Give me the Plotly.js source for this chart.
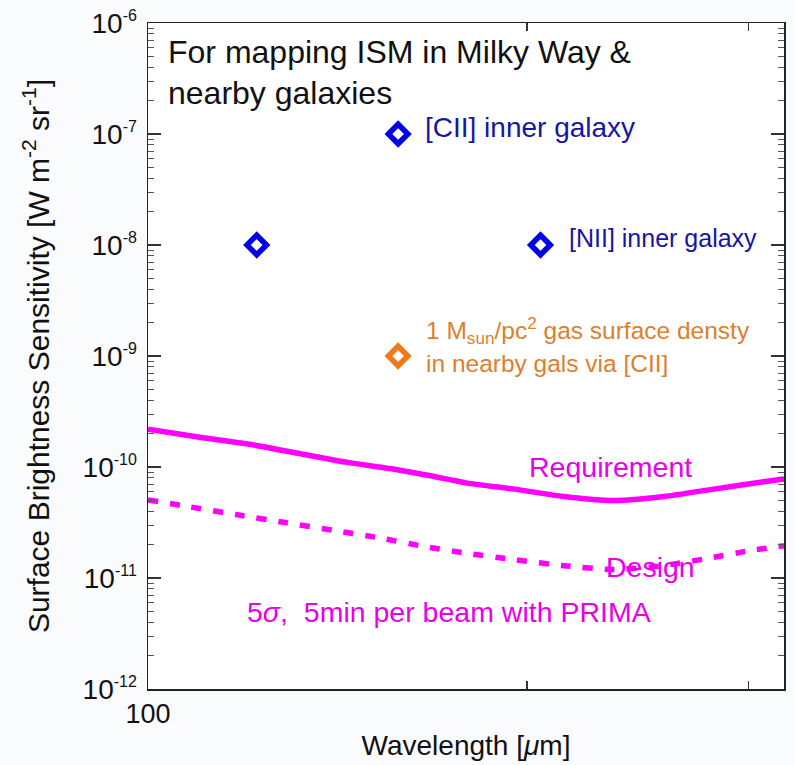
<!DOCTYPE html>
<html><head><meta charset="utf-8">
<script src="https://cdn.plot.ly/plotly-3.0.1.min.js"></script>
<style>html,body{margin:0;padding:0;background:#fafbfd}</style>
</head><body><div id="chart" style="width:795px;height:765px"></div>
<script>
// PRIMA 5-sigma, 5 min per beam surface brightness sensitivity curves
const reqWavelength = [100, 109.6, 120.0, 131.5, 144.0, 157.8, 172.9, 179.3, 195.4, 214.0, 234.4, 256.9, 281.4, 308.3, 320];
const reqSensitivity = [2.19e-10, 1.86e-10, 1.61e-10, 1.33e-10, 1.10e-10, 9.44e-11, 7.78e-11, 7.16e-11, 6.32e-11, 5.42e-11, 4.99e-11, 5.42e-11, 6.32e-11, 7.36e-11, 7.78e-11];
const designWavelength = [100, 107.6, 117.8, 128.4, 140.6, 153.0, 165.8, 178.6, 195.4, 214.0, 234.4, 255.0, 276.3, 301.1, 320];
const designSensitivity = [5.06e-11, 4.40e-11, 3.71e-11, 3.16e-11, 2.68e-11, 2.29e-11, 1.92e-11, 1.68e-11, 1.46e-11, 1.29e-11, 1.19e-11, 1.28e-11, 1.48e-11, 1.77e-11, 1.95e-11];

// Galactic fine-structure line targets: [CII] 158, [NII] 122, [NII] 205
const innerWavelength = [158, 122, 205];
const innerBrightness = [1e-7, 1e-8, 1e-8];
// Nearby galaxies, [CII] at 1 Msun/pc^2
const gasWavelength = [158];
const gasBrightness = [1e-9];

const yTickVals = [1e-12, 1e-11, 1e-10, 1e-9, 1e-8, 1e-7, 1e-6];
const yTickExp = ['-12', '-11', '-10', '-9', '-8', '-7', '-6'];
const xTickVals = [100];
const xTickText = ['100'];
const xUnlabelledTicks = [200, 300];

const yTickText = yTickExp.map(e => '10<sup><span style="font-size:16px">' + e + '</span></sup>');

// minor ticks at 2..9 within each decade
const yMinor = [];
for (let e = -12; e < -6; e++) for (let m = 2; m <= 9; m++) yMinor.push(m * Math.pow(10, e));

const MAGENTA = '#ff00ff';
const FONT = 'Liberation Sans, Arial, sans-serif';

const traces = [
  { x: reqWavelength, y: reqSensitivity, mode: 'lines', type: 'scatter',
    line: { color: MAGENTA, width: 5.5, shape: 'spline', smoothing: 0.6 }, hoverinfo: 'skip' },
  { x: designWavelength, y: designSensitivity, mode: 'lines', type: 'scatter',
    line: { color: MAGENTA, width: 5.5, dash: '10px,12px', shape: 'spline', smoothing: 0.6 }, hoverinfo: 'skip' },
  { x: innerWavelength, y: innerBrightness, mode: 'markers', type: 'scatter',
    marker: { symbol: 'diamond-open', size: 15, color: '#0000e8', line: { width: 5.5, color: '#0000e8' } } },
  { x: gasWavelength, y: gasBrightness, mode: 'markers', type: 'scatter',
    marker: { symbol: 'diamond-open', size: 15, color: '#f07a1a', line: { width: 5.5, color: '#f07a1a' } } }
];

// pixel helpers for placing text inside the plot frame
const L = 148, R = 784, T = 23, B = 689;
const px = v => (v - L) / (R - L);
const py = v => (B - v) / (B - T);
function label(text, x, y, size, color) {
  return { text, x: px(x), y: py(y), xref: 'paper', yref: 'paper', xanchor: 'left', yanchor: 'middle',
    showarrow: false, font: { family: FONT, size, color } };
}

const layout = {
  width: 795, height: 765,
  margin: { l: L, r: 795 - R, t: T, b: 765 - B },
  paper_bgcolor: '#fafbfd', plot_bgcolor: '#ffffff',
  showlegend: false,
  font: { family: FONT, color: '#111' },
  xaxis: {
    type: 'log', range: [2, Math.log10(320)],
    tickmode: 'array', tickvals: xTickVals, ticktext: xTickText,
    ticks: 'inside', ticklen: 8, tickwidth: 1.2, tickcolor: '#333',
    minor: { tickmode: 'array', tickvals: xUnlabelledTicks, ticks: 'inside', ticklen: 8, tickwidth: 1.2, tickcolor: '#333', showgrid: false },
    showline: true, linecolor: '#222', linewidth: 1.5, mirror: 'allticks',
    showgrid: false, zeroline: false,
    tickfont: { family: FONT, size: 27, color: '#111' },
    title: { text: 'Wavelength [<i>μ</i>m]', font: { family: FONT, size: 28, color: '#111' }, standoff: 7 }
  },
  yaxis: {
    type: 'log', range: [-12, -6],
    tickmode: 'array', tickvals: yTickVals, ticktext: yTickText,
    ticks: 'inside', ticklen: 13, tickwidth: 1.2, tickcolor: '#333',
    ticklabelstandoff: 4,
    minor: { tickmode: 'array', tickvals: yMinor, ticks: 'inside', ticklen: 6, tickcolor: '#555', tickwidth: 1, showgrid: false },
    showline: true, linecolor: '#222', linewidth: 1.5, mirror: 'allticks',
    showgrid: false, zeroline: false,
    tickfont: { family: FONT, size: 28, color: '#111' },
    title: { text: 'Surface Brightness Sensitivity [W m<sup>-2</sup> sr<sup>-1</sup>]', font: { family: FONT, size: 30, color: '#111' }, standoff: 24 }
  },
  annotations: [
    label('For mapping ISM in Milky Way &', 166, 52, 32, '#111'),
    label('nearby galaxies', 166, 93, 32, '#111'),
    label('[CII] inner galaxy', 423, 127, 28, '#1616a4'),
    label('[NII] inner galaxy', 567, 238, 25, '#1616a4'),
    label('1 M<sub>sun</sub>/pc<sup>2</sup> gas surface densty', 424, 330, 24.5, '#dd7f2c'),
    label('in nearby gals via [CII]', 424, 364, 24.5, '#dd7f2c'),
    label('Requirement', 527, 467, 28.5, '#e800e8'),
    label('Design', 604, 567, 28.5, '#e800e8'),
    label('5<i>σ</i>,\u00a0 5min per beam with PRIMA', 245, 612, 28.5, '#e800e8')
  ]
};

Plotly.newPlot('chart', traces, layout, { staticPlot: true, displayModeBar: false });
</script>
</body></html>
